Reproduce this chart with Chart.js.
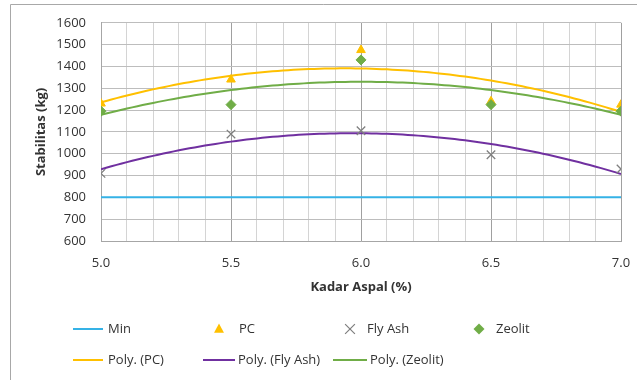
<!DOCTYPE html>
<html>
<head>
<meta charset="utf-8">
<script src="https://cdn.jsdelivr.net/npm/chart.js@4/dist/chart.umd.min.js"></script>
<style>
  html, body { margin: 0; padding: 0; background: #fff; }
  #wrap { position: relative; width: 637px; height: 380px; }
  canvas { display: block; }
</style>
</head>
<body>
<div id="wrap"><canvas id="c" width="637" height="380"></canvas></div>
<script>
// ---- data ----
const kadarAspal = [5.0, 5.5, 6.0, 6.5, 7.0];
const pcValues = [1230, 1340, 1475, 1240, 1225];
const flyAshValues = [910, 1090, 1105, 995, 930];
const zeolitValues = [1195, 1225, 1430, 1225, 1195];
const minValue = 800;
const yTicks = { min: 600, max: 1600, step: 100 };
const xTicks = { min: 5.0, max: 7.0, minorStep: 0.1, majorStep: 0.5 };
const seriesNames = ['Min', 'PC', 'Fly Ash', 'Zeolit', 'Poly. (PC)', 'Poly. (Fly Ash)', 'Poly. (Zeolit)'];

// ---- quadratic least-squares trendline (as Excel "Poly. order 2") ----
function polyFit2(xs, ys) {
  let n = xs.length, sx = 0, sx2 = 0, sx3 = 0, sx4 = 0, sy = 0, sxy = 0, sx2y = 0;
  for (let i = 0; i < n; i++) {
    const x = xs[i], y = ys[i];
    sx += x; sx2 += x * x; sx3 += x * x * x; sx4 += x * x * x * x;
    sy += y; sxy += x * y; sx2y += x * x * y;
  }
  const M = [[n, sx, sx2, sy], [sx, sx2, sx3, sxy], [sx2, sx3, sx4, sx2y]];
  for (let i = 0; i < 3; i++) {
    let p = i;
    for (let r = i + 1; r < 3; r++) if (Math.abs(M[r][i]) > Math.abs(M[p][i])) p = r;
    [M[i], M[p]] = [M[p], M[i]];
    for (let r = 0; r < 3; r++) {
      if (r === i) continue;
      const f = M[r][i] / M[i][i];
      for (let c = i; c < 4; c++) M[r][c] -= f * M[i][c];
    }
  }
  const a = M[0][3] / M[0][0], b = M[1][3] / M[1][1], c = M[2][3] / M[2][2];
  return x => a + b * x + c * x * x;
}
function trendPoints(xs, ys) {
  const f = polyFit2(xs, ys);
  const pts = [];
  const lo = xs[0], hi = xs[xs.length - 1];
  const steps = 100;
  for (let i = 0; i <= steps; i++) {
    const x = lo + (hi - lo) * i / steps;
    pts.push({ x: x, y: f(x) });
  }
  return pts;
}
const toPts = (xs, ys) => xs.map((x, i) => ({ x: x, y: ys[i] }));

const COL = {
  min: '#35B2E6',
  pc: '#FFC000',
  fly: '#7F7F7F',
  zeo: '#70AD47',
  polyPc: '#FFC000',
  polyFly: '#7030A0',
  polyZeo: '#70AD47',
  text: '#333333'
};
const FONT = '"Open Sans", "Liberation Sans", sans-serif';

const datasets = [
  { label: seriesNames[0], type: 'line', data: [{ x: xTicks.min, y: minValue }, { x: xTicks.max, y: minValue }],
    borderColor: COL.min, borderWidth: 2, pointRadius: 0, order: 7 },
  { label: seriesNames[1], type: 'scatter', data: toPts(kadarAspal, pcValues),
    pointStyle: 'triangle', pointRadius: 5, backgroundColor: COL.pc, borderColor: COL.pc, borderWidth: 1, order: 3 },
  { label: seriesNames[2], type: 'scatter', data: toPts(kadarAspal, flyAshValues),
    pointStyle: 'crossRot', pointRadius: 6, backgroundColor: COL.fly, borderColor: COL.fly, borderWidth: 1.3, order: 2 },
  { label: seriesNames[3], type: 'scatter', data: toPts(kadarAspal, zeolitValues),
    pointStyle: 'rectRot', pointRadius: 5, backgroundColor: COL.zeo, borderColor: COL.zeo, borderWidth: 1, order: 1 },
  { label: seriesNames[4], type: 'line', data: trendPoints(kadarAspal, pcValues),
    borderColor: COL.polyPc, borderWidth: 2, pointRadius: 0, order: 6 },
  { label: seriesNames[5], type: 'line', data: trendPoints(kadarAspal, flyAshValues),
    borderColor: COL.polyFly, borderWidth: 2, pointRadius: 0, order: 5 },
  { label: seriesNames[6], type: 'line', data: trendPoints(kadarAspal, zeolitValues),
    borderColor: COL.polyZeo, borderWidth: 2, pointRadius: 0, order: 4 }
];

function isMajor(v) {
  const k = v / xTicks.majorStep;
  return Math.abs(k - Math.round(k)) < 1e-6;
}

const legendLayout = [
  { i: 0, kind: 'line', x0: 73, x1: 103, tx: 108, y: 329 },
  { i: 1, kind: 'marker', mx: 219, tx: 239, y: 329 },
  { i: 2, kind: 'marker', mx: 350, tx: 367, y: 329 },
  { i: 3, kind: 'marker', mx: 479, tx: 496, y: 329 },
  { i: 4, kind: 'line', x0: 73, x1: 103, tx: 108, y: 360 },
  { i: 5, kind: 'line', x0: 203, x1: 235, tx: 238, y: 360 },
  { i: 6, kind: 'line', x0: 333, x1: 367, tx: 370, y: 360 }
];
function drawMarker(ctx, style, x, y, r, color, lw) {
  ctx.save();
  ctx.fillStyle = color; ctx.strokeStyle = color; ctx.lineWidth = lw;
  ctx.beginPath();
  if (style === 'triangle') {
    ctx.moveTo(x, y - r); ctx.lineTo(x + r * 0.9, y + r * 0.7); ctx.lineTo(x - r * 0.9, y + r * 0.7); ctx.closePath(); ctx.fill();
  } else if (style === 'rectRot') {
    ctx.moveTo(x, y - r); ctx.lineTo(x + r, y); ctx.lineTo(x, y + r); ctx.lineTo(x - r, y); ctx.closePath(); ctx.fill();
  } else if (style === 'crossRot') {
    const d = r * 0.7;
    ctx.moveTo(x - d, y - d); ctx.lineTo(x + d, y + d); ctx.moveTo(x + d, y - d); ctx.lineTo(x - d, y + d); ctx.stroke();
  }
  ctx.restore();
}
const legendPlugin = {
  id: 'excelLegend',
  afterDraw(chart) {
    const ctx = chart.ctx;
    ctx.save();
    ctx.strokeStyle = '#A8A8A8';
    ctx.lineWidth = 1;
    ctx.beginPath();
    ctx.moveTo(10.5, 380); ctx.lineTo(10.5, 4.5); ctx.lineTo(637, 4.5);
    ctx.stroke();
    ctx.font = '13px ' + FONT;
    ctx.textBaseline = 'middle';
    ctx.textAlign = 'left';
    legendLayout.forEach(it => {
      const ds = chart.data.datasets[it.i];
      if (it.kind === 'line') {
        ctx.strokeStyle = ds.borderColor; ctx.lineWidth = 2;
        ctx.beginPath(); ctx.moveTo(it.x0, it.y); ctx.lineTo(it.x1, it.y); ctx.stroke();
      } else {
        drawMarker(ctx, ds.pointStyle, it.mx, it.y, ds.pointStyle === 'crossRot' ? 7 : 5.5, ds.backgroundColor, 1.2);
      }
      ctx.fillStyle = COL.text;
      ctx.fillText(ds.label, it.tx, it.y);
    });
    ctx.restore();
  }
};

new Chart(document.getElementById('c'), {
  type: 'scatter',
  data: { datasets: datasets },
  plugins: [legendPlugin],
  options: {
    responsive: false,
    animation: false,
    layout: { padding: { left: 0, top: 22, right: 16, bottom: 79 } },
    plugins: { legend: { display: false }, tooltip: { enabled: false } },
    scales: {
      x: {
        type: 'linear',
        min: xTicks.min, max: xTicks.max,
        afterFit(s) { s.height = 60; s.paddingRight = 0; s.paddingLeft = 0; },
        border: { display: true, color: '#A6A6A6' },
        grid: {
          drawTicks: false,
          color: ctx => isMajor(ctx.tick.value) ? '#A0A0A0' : '#D4D4D4',
          lineWidth: 1
        },
        ticks: {
          stepSize: xTicks.minorStep, autoSkip: false, maxRotation: 0,
          padding: 14, color: COL.text, font: { family: FONT, size: 13 },
          callback: v => isMajor(v) ? Number(v).toFixed(1) : ''
        },
        title: { display: true, text: 'Kadar Aspal (%)', color: COL.text,
                 font: { family: FONT, size: 13, weight: 'bold' }, padding: { top: 0, bottom: 6 } }
      },
      y: {
        min: yTicks.min, max: yTicks.max,
        afterFit(s) { s.width = 101; },
        border: { display: true, color: '#A6A6A6' },
        grid: { drawTicks: false, color: '#BDBDBD', lineWidth: 1 },
        ticks: { stepSize: yTicks.step, padding: 15, color: COL.text, font: { family: FONT, size: 13 },
                 callback: v => String(v) },
        title: { display: true, text: 'Stabilitas (kg)', color: COL.text,
                 font: { family: FONT, size: 13, weight: 'bold' }, padding: { top: 33, bottom: 0 } }
      }
    }
  }
});
</script>
</body>
</html>
